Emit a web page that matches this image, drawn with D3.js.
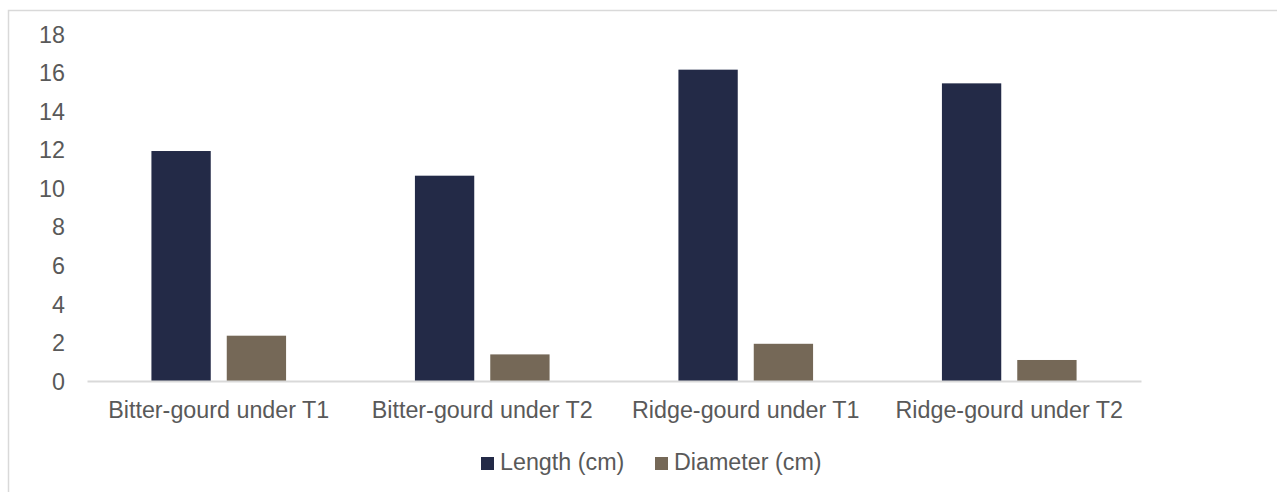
<!DOCTYPE html>
<html>
<head>
<meta charset="utf-8">
<script src="https://cdn.jsdelivr.net/npm/d3@7"></script>
<style>
  html, body { margin: 0; padding: 0; background: #fff; }
  svg { display: block; font-family: "Liberation Sans", Arial, sans-serif; }
</style>
</head>
<body>
<svg id="chart" width="1277" height="492"></svg>
<script>
// Fruit measurements per crop and treatment
const categories = ["Bitter-gourd under T1", "Bitter-gourd under T2", "Ridge-gourd under T1", "Ridge-gourd under T2"];
const seriesNames = ["Length (cm)", "Diameter (cm)"];
const lengthValues = [11.93, 10.65, 16.15, 15.44];
const diameterValues = [2.35, 1.38, 1.93, 1.09];
const yTicks = [0, 2, 4, 6, 8, 10, 12, 14, 16, 18];
const colors = ["#232a47", "#756857"];

const rows = categories.map((c, i) => ({ category: c, values: [lengthValues[i], diameterValues[i]] }));

const FONT = "23.3px";
const TEXT = "#595959";

const svg = d3.select("#chart");
const margin = { left: 87, right: 136, top: 34, bottom: 111 };
const W = 1277, H = 492;
const plotW = W - margin.left - margin.right;
const plotH = H - margin.top - margin.bottom;

// Outer chart-area border (runs off the right and bottom edges)
svg.append("rect")
  .attr("x", 8.5).attr("y", 10.5)
  .attr("width", 1400).attr("height", 600)
  .attr("fill", "none").attr("stroke", "#d9d9d9").attr("stroke-width", 1.5);

const g = svg.append("g").attr("transform", `translate(${margin.left},${margin.top})`);

const x0 = d3.scaleBand().domain(categories).range([0, plotW]).padding(0);
const groupW = x0.bandwidth() * 0.511;
const x1 = d3.scaleBand().domain(seriesNames).range([0, groupW]).paddingInner(0.2125).paddingOuter(0);
const y = d3.scaleLinear().domain([0, 18]).range([plotH, 0]);

// Y axis labels only (no line, no gridlines)
const yAxis = d3.axisLeft(y).tickValues(yTicks).tickSize(0).tickPadding(22);
g.append("g").call(yAxis)
  .call(s => s.select(".domain").remove())
  .call(s => s.selectAll("text").attr("fill", TEXT).style("font-size", FONT).attr("dy", "0.35em"));

// Bars
const groups = g.selectAll(".grp").data(rows).join("g")
  .attr("class", "grp")
  .attr("transform", d => `translate(${x0(d.category) + (x0.bandwidth() - groupW) / 2},0)`);

groups.selectAll("rect")
  .data(d => d.values.map((v, k) => ({ name: seriesNames[k], value: v, k })))
  .join("rect")
  .attr("x", d => x1(d.name))
  .attr("y", d => y(d.value))
  .attr("width", x1.bandwidth())
  .attr("height", d => plotH - y(d.value))
  .attr("fill", d => colors[d.k]);

// X axis
const xAxis = d3.axisBottom(x0).tickSize(0);
g.append("g").attr("transform", `translate(0,${plotH})`).call(xAxis)
  .call(s => s.select(".domain").attr("stroke", "#d9d9d9").attr("stroke-width", 2))
  .call(s => s.selectAll("text").attr("fill", TEXT).style("font-size", FONT)
    .attr("y", 37).attr("dy", null));

// Legend
const legend = svg.append("g").attr("transform", "translate(0,470)");
const legendItems = [
  { name: seriesNames[0], x: 481, color: colors[0] },
  { name: seriesNames[1], x: 655, color: colors[1] }
];
legendItems.forEach(it => {
  legend.append("rect").attr("x", it.x).attr("y", -13).attr("width", 13).attr("height", 13).attr("fill", it.color);
  legend.append("text").attr("x", it.x + 19).attr("y", 0)
    .attr("fill", TEXT).style("font-size", FONT).text(it.name);
});
</script>
</body>
</html>
